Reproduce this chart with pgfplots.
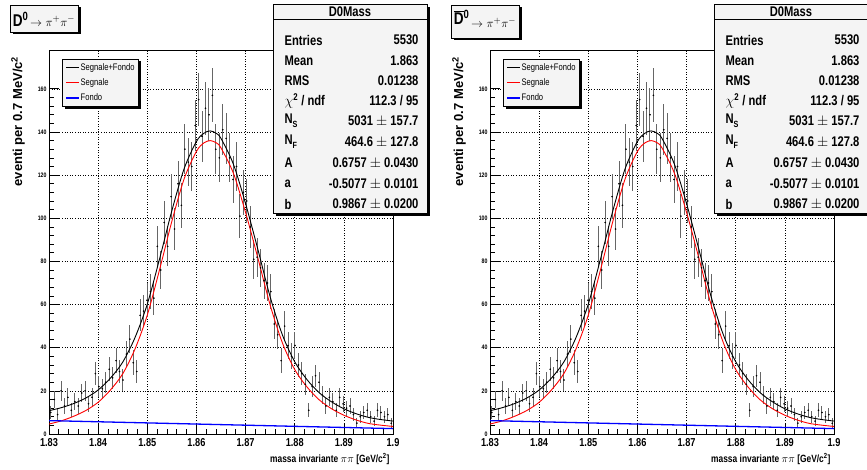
\documentclass[border=0pt]{standalone}
\usepackage{fontspec}
\setmainfont{Liberation Sans}[FakeStretch=0.8]
\newfontfamily\widesans{Liberation Sans}
\usepackage{pgfplots}
\pgfplotsset{compat=1.18}
\usepackage{pgfplotstable}

\definecolor{boxfill}{HTML}{F4F4F4}

% istogramma: centri dei bin (0.7 MeV) e conteggi
\pgfplotstableread{
x y
1.83035 10
1.83105 16
1.83175 9
1.83245 20
1.83315 13
1.83385 17
1.83455 11
1.83525 15
1.83595 13
1.83665 19
1.83735 20
1.83805 14
1.83875 17
1.83945 28
1.84015 22
1.84085 21
1.84155 24
1.84225 30
1.84295 26
1.84365 34
1.84435 29
1.84505 25
1.84575 37
1.84645 44
1.84715 33
1.84785 29
1.84855 55
1.84925 57
1.84995 62
1.85065 66
1.85135 63
1.85205 87
1.85275 76
1.85345 98
1.85415 87
1.85485 110
1.85555 95
1.85625 116
1.85695 106
1.85765 132
1.85835 126
1.85905 124
1.85975 143
1.86045 155
1.86115 138
1.86185 151
1.86255 148
1.86325 157
1.86395 132
1.86465 128
1.86535 141
1.86605 137
1.86675 128
1.86745 118
1.86815 124
1.86885 101
1.86955 112
1.87025 108
1.87095 96
1.87165 81
1.87235 82
1.87305 77
1.87375 71
1.87445 70
1.87515 66
1.87585 51
1.87655 46
1.87725 34
1.87795 50
1.87865 41
1.87935 36
1.88005 41
1.88075 32
1.88145 28
1.88215 23
1.88285 11
1.88355 22
1.88425 27
1.88495 24
1.88565 18
1.88635 13
1.88705 17
1.88775 15
1.88845 11
1.88915 17
1.88985 14
1.89055 12
1.89125 13
1.89195 9
1.89265 5
1.89335 8
1.89405 10
1.89475 11
1.89545 8
1.89615 6
1.89685 11
1.89755 10
1.89825 8
1.89895 9
1.89965 5
}\hist

% curve del fit: s = segnale, t = segnale+fondo
\pgfplotstableread{
x s t
1.8300 4.6 10.8
1.8325 6.1 12.2
1.8350 8.2 14.1
1.8375 10.9 16.7
1.8400 14.7 20.4
1.8425 20.4 25.9
1.8450 27.9 33.3
1.8475 39.4 44.7
1.8500 55.1 60.2
1.8525 76.2 81.2
1.8550 98.6 103.5
1.8575 118.3 123.0
1.8600 131.0 135.6
1.8615 134.9 139.4
1.8628 136.0 140.5
1.8640 135.0 139.4
1.8650 132.6 137.0
1.8675 121.0 125.2
1.8700 102.7 106.8
1.8725 81.6 85.6
1.8750 59.8 63.6
1.8775 42.2 45.9
1.8800 29.9 33.5
1.8825 21.8 25.2
1.8850 15.8 19.1
1.8875 11.7 14.9
1.8900 8.7 11.7
1.8925 6.5 9.4
1.8950 4.9 7.7
1.8975 4.1 6.7
1.9000 3.5 6.0
}\fit

\pgfplotsset{
  legend image code/.code={\draw[#1] (0pt,0pt) -- (13pt,0pt);},
  rootaxis/.style={
    at={(49pt,-434pt)}, anchor=south west,
    scale only axis, width=344pt, height=384pt,
    xmin=1.83, xmax=1.9, ymin=0, ymax=178,
    xtick={1.83,1.84,1.85,1.86,1.87,1.88,1.89,1.9},
    ytick={0,20,...,160},
    minor x tick num=4, minor y tick num=4,
    scaled x ticks=false,
    xtick pos=bottom, ytick pos=left,
    tick align=inside,
    major tick length=10pt, minor tick length=5pt,
    tick style={black, line width=0.7pt},
    axis line style={black, line width=0.8pt},
    grid=major,
    major grid style={black, line width=0.5pt, dash pattern=on 1pt off 1.6pt},
    /pgf/number format/assume math mode=true,
    xticklabel style={font=\bfseries\fontsize{11.5}{11.5}\selectfont, yshift=-1pt,
      /pgf/number format/fixed, /pgf/number format/precision=2},
    yticklabel style={font=\bfseries\fontsize{6.5}{6.5}\selectfont, xshift=1pt},
    legend cell align=left,
    legend style={name=leg, at={(rel axis cs:0.038,0.977)}, anchor=north west,
      draw=black, fill=boxfill, line width=0.6pt,
      font=\fontsize{9.5}{9.5}\selectfont,
      inner xsep=3pt, inner ysep=3pt, row sep=5pt,
      nodes={inner sep=1pt}},
  },
}

\newcommand{\statrow}[3]{%
  \node[anchor=west, font=\bfseries\fontsize{14}{14}\selectfont] at (281pt,-#1pt) {#2};
  \node[anchor=east, font=\bfseries\fontsize{14}{14}\selectfont] at (422pt,-#1pt) {#3};}

\newcommand{\panel}[3]{%
\begin{scope}[xshift=#1]
  \begin{axis}[rootaxis]
    \addplot[forget plot, only marks, mark=*, mark size=0.6pt, black,
      error bars/.cd, y dir=both, y explicit, error mark=none,
      error bar style={black!60, line width=1pt}]
      table[x=x, y=y, y error expr={sqrt(\thisrow{y})}] {\hist};
    \addplot[black, line width=0.9pt, smooth] table[x=x, y=t] {\fit};
    \addlegendentry{Segnale+Fondo}
    \addplot[red, line width=0.9pt, smooth] table[x=x, y=s] {\fit};
    \addlegendentry{Segnale}
    \addplot[blue, line width=1.3pt] coordinates {(1.83,6.2) (1.9,2.5)};
    \addlegendentry{Fondo}
  \end{axis}
  % ombra della legenda
  \fill[black] ([xshift=0.3pt,yshift=-2.5pt]leg.north east) rectangle ([xshift=2.5pt,yshift=-2.5pt]leg.south east);
  \fill[black] ([xshift=2.5pt,yshift=-0.3pt]leg.south west) rectangle ([xshift=2.5pt,yshift=-2.5pt]leg.south east);
  % titoli degli assi
  \node[rotate=90, anchor=east, font=\widesans\bfseries\fontsize{13}{13}\selectfont]
    at (18pt,-53pt) {eventi per 0.7 MeV/c\textsuperscript{2}};
  \node[anchor=east, font=\bfseries\fontsize{10.5}{10.5}\selectfont]
    at (393pt,-459pt) {massa invariante $\pi\pi$ [GeV/c\textsuperscript{2}]};
  % titolo
  \fill[black] (12.5pt,-7.5pt) rectangle (80.5pt,-#3pt-2.5pt);
  \filldraw[fill=boxfill, draw=black, line width=0.6pt] (10pt,-5pt) rectangle (78pt,-#3pt);
  \node at (44pt,-19pt) {#2};
  % box statistico
  \fill[black] (276pt,-7pt) rectangle (430pt,-216pt);
  \filldraw[fill=boxfill, draw=black, line width=0.6pt] (273pt,-4pt) rectangle (427pt,-213pt);
  \draw[black, line width=0.6pt] (273pt,-19pt) -- (427pt,-19pt);
  \node[font=\bfseries\fontsize{14}{14}\selectfont] at (350pt,-12pt) {D0Mass};
  \statrow{40}{Entries}{5530}
  \statrow{61}{Mean}{1.863}
  \statrow{81}{RMS}{0.01238}
  \statrow{101}{{\fontsize{15}{15}\selectfont$\chi$}\textsuperscript{2} / ndf}{112.3 / 95}
  \statrow{121}{N\raisebox{-4pt}{\fontsize{9}{9}\selectfont S}}{5031 $\pm$ 157.7}
  \statrow{142}{N\raisebox{-4pt}{\fontsize{9}{9}\selectfont F}}{464.6 $\pm$ 127.8}
  \statrow{163}{A}{0.6757 $\pm$ 0.0430}
  \statrow{184}{a}{-0.5077 $\pm$ 0.0101}
  \statrow{204}{b}{0.9867 $\pm$ 0.0200}
\end{scope}}

\begin{document}
\begin{tikzpicture}
  \useasboundingbox (0,0) rectangle (867pt,-470pt);
  \fill[white] (0,0) rectangle (867pt,-470pt);
  \clip (0,0) rectangle (867pt,-470pt);
  \panel{0pt}{{\bfseries\fontsize{17}{17}\selectfont D\textsuperscript{0}}\,{\fontsize{13}{13}\selectfont$\rightarrow\pi^{+}\pi^{-}$}}{32}
  \panel{441pt}{{\bfseries\fontsize{17}{17}\selectfont$\overline{\mbox{\bfseries D}}$\textsuperscript{0}}\,{\fontsize{13}{13}\selectfont\raisebox{-3pt}{$\rightarrow\pi^{+}\pi^{-}$}}}{38}
\end{tikzpicture}
\end{document}
